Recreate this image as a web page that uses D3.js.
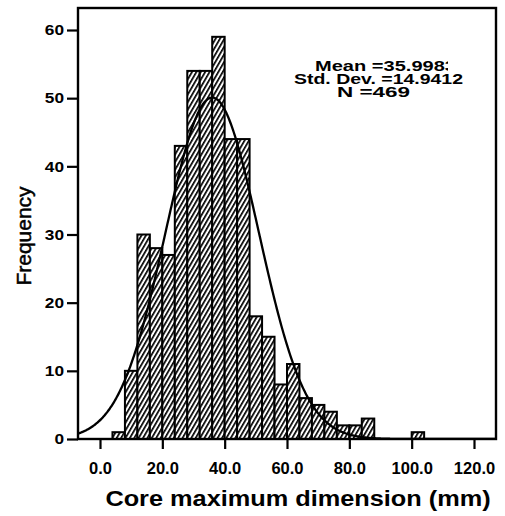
<!DOCTYPE html>
<html>
<head>
<meta charset="utf-8">
<script src="https://cdn.jsdelivr.net/npm/d3@7"></script>
<style>
  html, body { margin: 0; padding: 0; background: #fff; }
  svg { display: block; }
  text { font-family: "Liberation Sans", Arial, sans-serif; fill: #000; }
</style>
</head>
<body>
<script>
// Histogram bins (lower edge, mm) and their counts; each bin is 4 mm wide
const binStarts = [4, 8, 12, 16, 20, 24, 28, 32, 36, 40, 44, 48, 52, 56, 60, 64, 68, 72, 76, 80, 84, 100];
const binCounts = [1, 10, 30, 28, 27, 43, 54, 54, 59, 44, 44, 18, 15, 8, 11, 6, 5, 4, 2, 2, 3, 1];
const binWidth = 4;

// Summary statistics shown in the corner
const meanValue = 35.9983;
const stdDev = 14.9412;
const nCount = 469;
const statLines = ["Mean =35.9983", "Std. Dev. =14.9412", "N =469"];

// Axis ticks
const xTicks = [0, 20, 40, 60, 80, 100, 120];
const yTicks = [0, 10, 20, 30, 40, 50, 60];

// Layout of the statistics lines: left edge and drawn width
const statLayout = [{ x: 315, w: 141 }, { x: 294, w: 169 }, { x: 337, w: 73 }];

const W = 505, H = 516;
const svg = d3.select("body").append("svg").attr("width", W).attr("height", H);

const plotL = 78, plotR = 496, plotT = 8, plotB = 439;
const x = d3.scaleLinear().domain([0, 120]).range([100, 474]);
const y = d3.scaleLinear().domain([0, 60]).range([plotB, 30]);
const xMin = x.invert(plotL), xMax = x.invert(plotR);

// Text in this chart is set slightly wide; stretch each label horizontally
function widen(sel, k) {
  sel.each(function () {
    const len = this.getComputedTextLength();
    d3.select(this).attr("textLength", len * k).attr("lengthAdjust", "spacingAndGlyphs");
  });
}

// Diagonal hatch fill
const defs = svg.append("defs");
const pat = defs.append("pattern")
  .attr("id", "hatch")
  .attr("patternUnits", "userSpaceOnUse")
  .attr("width", 3.8).attr("height", 10)
  .attr("patternTransform", "rotate(30)");
pat.append("rect").attr("width", 3.8).attr("height", 10).attr("fill", "#fff");
pat.append("rect").attr("x", 0).attr("width", 1.7).attr("height", 10).attr("fill", "#000");

defs.append("clipPath").attr("id", "plotclip")
  .append("rect").attr("x", plotL).attr("y", plotT).attr("width", plotR - plotL).attr("height", plotB - plotT);

// Bars
svg.append("g").selectAll("rect")
  .data(binStarts.map((s, i) => ({ s, c: binCounts[i] })))
  .join("rect")
  .attr("x", d => x(d.s))
  .attr("y", d => y(d.c))
  .attr("width", d => x(d.s + binWidth) - x(d.s))
  .attr("height", d => y(0) - y(d.c))
  .attr("fill", "url(#hatch)")
  .attr("stroke", "#000")
  .attr("stroke-width", 2);

// Fitted normal curve scaled to counts
const peak = nCount * binWidth / (stdDev * Math.sqrt(2 * Math.PI));
const curvePts = d3.range(xMin, xMax + 0.01, 0.25).map(v => [v, peak * Math.exp(-((v - meanValue) ** 2) / (2 * stdDev * stdDev))]);
svg.append("path")
  .datum(curvePts)
  .attr("clip-path", "url(#plotclip)")
  .attr("fill", "none")
  .attr("stroke", "#000")
  .attr("stroke-width", 2.3)
  .attr("d", d3.line().x(d => x(d[0])).y(d => y(d[1])).curve(d3.curveBasis));

// Frame
svg.append("rect")
  .attr("x", plotL).attr("y", plotT).attr("width", plotR - plotL).attr("height", plotB - plotT)
  .attr("fill", "none").attr("stroke", "#000").attr("stroke-width", 2.4);

// Axes
const xAxis = svg.append("g").attr("transform", `translate(0,${plotB})`)
  .call(d3.axisBottom(x).tickValues(xTicks).tickFormat(d3.format(".1f")).tickSize(10).tickPadding(13));
const yAxis = svg.append("g").attr("transform", `translate(${plotL},0)`)
  .call(d3.axisLeft(y).tickValues(yTicks).tickSize(11).tickPadding(3));
[xAxis, yAxis].forEach(g => {
  g.select(".domain").remove();
  g.selectAll(".tick line").attr("stroke", "#000").attr("stroke-width", 2.2);
});
xAxis.selectAll(".tick text")
  .attr("font-family", "Liberation Sans, Arial, sans-serif")
  .attr("font-size", 16.5).attr("font-weight", "bold").attr("fill", "#000")
  .call(widen, 1.0);
yAxis.selectAll(".tick text")
  .attr("font-family", "Liberation Sans, Arial, sans-serif")
  .attr("font-size", 15).attr("font-weight", "bold").attr("fill", "#000")
  .call(widen, 1.15);

// Axis titles
svg.append("text")
  .attr("x", 298).attr("y", 506)
  .attr("text-anchor", "middle")
  .attr("font-size", 22).attr("font-weight", "bold")
  .text("Core maximum dimension (mm)")
  .call(widen, 1.15);
svg.append("text")
  .attr("transform", "translate(31,236) rotate(-90)")
  .attr("text-anchor", "middle")
  .attr("font-size", 21)
  .attr("stroke", "#000").attr("stroke-width", 0.5)
  .text("Frequency");

// Statistics block: one text with a line per statistic; the first line runs
// past the edge of its box and is cut off there
const statClip = defs.append("clipPath").attr("id", "statclip");
statClip.append("rect").attr("x", 280).attr("y", 50).attr("width", 168).attr("height", 24);
statClip.append("rect").attr("x", 280).attr("y", 74).attr("width", 200).attr("height", 40);
svg.append("text")
  .attr("clip-path", "url(#statclip)")
  .attr("font-size", 15.5).attr("font-weight", "bold")
  .selectAll("tspan")
  .data(statLines)
  .join("tspan")
  .attr("x", (d, i) => statLayout[i].x)
  .attr("y", (d, i) => 71 + i * 12.8)
  .attr("textLength", (d, i) => statLayout[i].w)
  .attr("lengthAdjust", "spacingAndGlyphs")
  .text(d => d);
</script>
</body>
</html>
